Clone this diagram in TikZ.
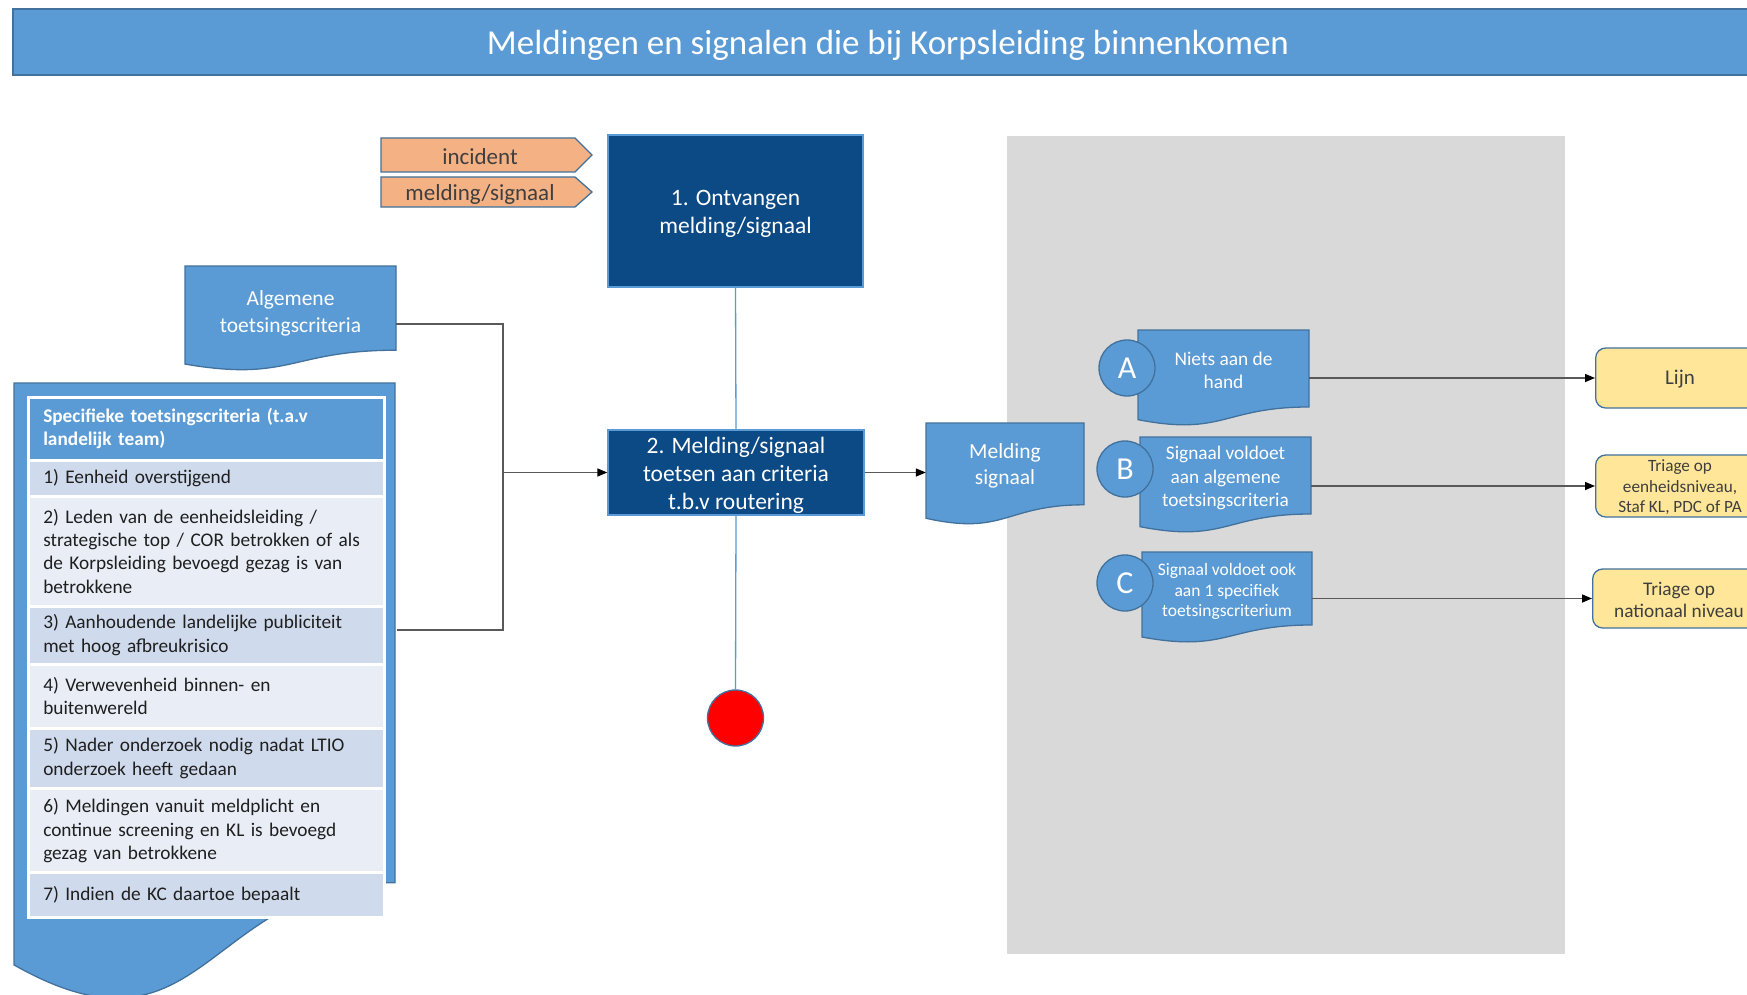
\documentclass[tikz,border=0pt]{standalone}
\usepackage{fontspec}
\setmainfont{Carlito}
\usetikzlibrary{arrows.meta,calc}

\definecolor{bluemid}{HTML}{5B9BD5}
\definecolor{blueedge}{HTML}{41719C}
\definecolor{navy}{HTML}{0C4A86}
\definecolor{panel}{HTML}{D9D9D9}
\definecolor{orangefill}{HTML}{F4B183}
\definecolor{yellowfill}{HTML}{FFE699}
\definecolor{rowdark}{HTML}{CFDAEC}
\definecolor{rowlight}{HTML}{E8EDF6}
\definecolor{linegray}{HTML}{595959}
\definecolor{labelgray}{HTML}{3F3F3F}

% flowchart "document" outline: style, x, y, width, height (y grows downwards)
\newcommand\docshape[5]{%
  \pgfmathsetmacro\dsX{#2+#4}%
  \pgfmathsetmacro\dsR{#3+0.802*#5}%
  \pgfmathsetmacro\dsM{#2+0.5*#4}%
  \pgfmathsetmacro\dsL{#3+0.934*#5}%
  \pgfmathsetmacro\dsC{#3+1.1075*#5}%
  \path[#1] (#2,#3) -- (\dsX,#3) -- (\dsX,\dsR)
     .. controls (\dsM,\dsR) and (\dsM,\dsC) .. (#2,\dsL) -- cycle;
}

\begin{document}
\begin{tikzpicture}[x=1pt,y=-1pt,
  docfill/.style={fill=bluemid,draw=blueedge,line width=1.3pt},
  doctext/.style={text=white,align=center,inner sep=0pt},
  navybox/.style={fill=navy,draw=bluemid,line width=1.3pt,text=white,align=center,
    font={\fontsize{23.5}{28}\selectfont}},
  tagfill/.style={fill=orangefill,draw=blueedge,line width=1.3pt},
  tagtext/.style={text=labelgray,font={\fontsize{23}{27}\selectfont}},
  letter/.style={circle,fill=bluemid,draw=blueedge,line width=1.3pt,minimum size=56pt,
    inner sep=0pt,text=white,font={\fontsize{32}{36}\selectfont}},
  yellowbox/.style={fill=yellowfill,draw=blueedge,line width=1.3pt,rounded corners=10pt,
    anchor=west,align=center,text=labelgray,inner sep=0pt},
  tablerow/.style={draw=white,line width=2.5pt,anchor=north west,text width=326pt,
    inner xsep=15pt,inner ysep=0pt,align=left,text=black!88,
    font={\fontsize{19.3}{23.4}\selectfont}},
  conn/.style={draw=linegray,line width=1.4pt},
  arr/.style={conn,-{Triangle[length=10pt,width=8pt,color=black]}},
  vline/.style={draw=bluemid,line width=1.3pt}]

\useasboundingbox (0,0) rectangle (1747,995);
\fill[white] (0,0) rectangle (1747,995);

% heading bar
\node[fill=bluemid,draw=blueedge,line width=2pt,minimum width=1750pt,minimum height=66pt]
  (titlebar) at (888,42) {};
\node[text=white,font={\fontsize{35}{40}\selectfont}] (title) at (888,45.5)
  {Meldingen en signalen die bij Korpsleiding binnenkomen};

% grey routing panel
\fill[panel] (1007,136) rectangle (1565,954);

% input tags
\path[tagfill] (381,138) -- (575,138) -- (592,155) -- (575,172) -- (381,172) -- cycle;
\node[tagtext] (tagincident) at (480,156.5) {incident};
\path[tagfill] (381,177) -- (575,177) -- (592,192) -- (575,207) -- (381,207) -- cycle;
\node[tagtext] (tagmelding) at (480,194.5) {melding/signaal};

% process steps
\node[navybox,minimum width=255pt,minimum height=152pt] (recv) at (735.5,211) {};
\node[text=white,align=center,font={\fontsize{23.5}{28}\selectfont}] (recvtext)
  at (735.5,213.5) {1. Ontvangen\\melding/signaal};
\node[navybox,minimum width=256pt,minimum height=85pt] (chk) at (736,472.5) {};
\node[text=white,align=center,font={\fontsize{23.5}{28}\selectfont}] (chktext)
  at (736,475) {2. Melding/signaal\\toetsen aan criteria\\t.b.v routering};
\node[circle,fill=red,draw=blueedge,line width=1.3pt,minimum size=56pt,inner sep=0pt]
  (stop) at (735.5,718) {};
\draw[vline] (recv.south) -- (chk.north);
\draw[vline] (chk.south) -- (stop.north);

% general criteria document
\docshape{docfill}{185}{266}{211}{105}
\node[doctext,minimum width=211pt,minimum height=84pt,font={\fontsize{21.5}{26.7}\selectfont}]
  (alg) at (290.5,313.5) {Algemene\\toetsingscriteria};

% specific criteria document with table
\docshape{docfill}{14}{383}{381}{623}
\node[tablerow,fill=bluemid,minimum height=63pt,text=white,
  font={\bfseries\fontsize{19.3}{23.4}\selectfont}] (r0) at (27,396)
  {Specifieke toetsingscriteria (t.a.v\\landelijk team)};
\node[tablerow,fill=rowdark,minimum height=36pt] (r1) at (27,459)
  {1) Eenheid overstijgend};
\node[tablerow,fill=rowlight,minimum height=110pt] (r2) at (27,495)
  {2) Leden van de eenheidsleiding /\\strategische top / COR betrokken of als\\de Korpsleiding bevoegd gezag is van\\betrokkene};
\node[tablerow,fill=rowdark,minimum height=58pt] (r3) at (27,605)
  {3) Aanhoudende landelijke publiciteit\\met hoog afbreukrisico};
\node[tablerow,fill=rowlight,minimum height=64pt] (r4) at (27,663)
  {4) Verwevenheid binnen- en\\buitenwereld};
\node[tablerow,fill=rowdark,minimum height=60pt] (r5) at (27,727)
  {5) Nader onderzoek nodig nadat LTIO\\onderzoek heeft gedaan};
\node[tablerow,fill=rowlight,minimum height=85pt] (r6) at (27,787)
  {6) Meldingen vanuit meldplicht en\\continue screening en KL is bevoegd\\gezag van betrokkene};
\node[tablerow,fill=rowdark,minimum height=45pt] (r7) at (27,871)
  {7) Indien de KC daartoe bepaalt};

% criteria feed into step 2
\coordinate (j) at (503,472.5);
\coordinate (specout) at (397,630);
\draw[conn] ([yshift=-10.5pt]alg.east) -| (j) |- (specout);
\draw[arr] (j) -- (chk.west);

% outgoing signal
\docshape{docfill}{926}{423}{158}{102}
\node[doctext,minimum width=158pt,minimum height=82pt,font={\fontsize{21.5}{25.6}\selectfont}]
  (msg) at (1005,466) {Melding\\signaal};
\draw[arr] (chk.east) -- (msg.west |- chk.east);

% outcomes A, B, C
\docshape{docfill}{1138}{330}{171}{96}
\node[doctext,minimum width=171pt,minimum height=77pt,font={\fontsize{19.4}{23.4}\selectfont}]
  (docA) at (1223.5,370.5) {Niets aan de\\hand};
\node[letter] (la) at (1127,368) {A};

\docshape{docfill}{1140}{437}{171}{96}
\node[doctext,minimum width=171pt,minimum height=77pt,font={\fontsize{19.3}{23.4}\selectfont}]
  (docB) at (1225.5,478) {Signaal voldoet\\aan algemene\\toetsingscriteria};
\node[letter] (lb) at (1125,469) {B};

\docshape{docfill}{1142}{552}{170}{91}
\node[doctext,minimum width=170pt,minimum height=73pt,font={\fontsize{17.5}{20.6}\selectfont}]
  (docC) at (1227,591.5) {Signaal voldoet ook\\aan 1 specifiek\\toetsingscriterium};
\node[letter] (lc) at (1125,583) {C};

% destinations
\node[yellowbox,minimum width=170pt,minimum height=60pt] (lijn) at (1595,378) {};
\node[text=labelgray,font={\fontsize{21}{25}\selectfont}] (lijntext) at (1680,379.5) {Lijn};
\node[yellowbox,minimum width=170pt,minimum height=62pt] (triE) at (1595,486) {};
\node[text=labelgray,align=center,inner sep=0pt,font={\fontsize{17.2}{20.6}\selectfont}]
  (triEtext) at (1680,487.5) {Triage op\\eenheidsniveau,\\Staf KL, PDC of PA};
\node[yellowbox,minimum width=173pt,minimum height=59pt] (triN) at (1592,598.5) {};
\node[text=labelgray,align=center,inner sep=0pt,font={\fontsize{19.3}{22.3}\selectfont}]
  (triNtext) at (1679,600) {Triage op\\nationaal niveau};

\draw[arr] (docA.east |- lijn.west) -- (lijn.west);
\draw[arr] (docB.east |- triE.west) -- (triE.west);
\draw[arr] (docC.east |- triN.west) -- (triN.west);

\end{tikzpicture}
\end{document}
